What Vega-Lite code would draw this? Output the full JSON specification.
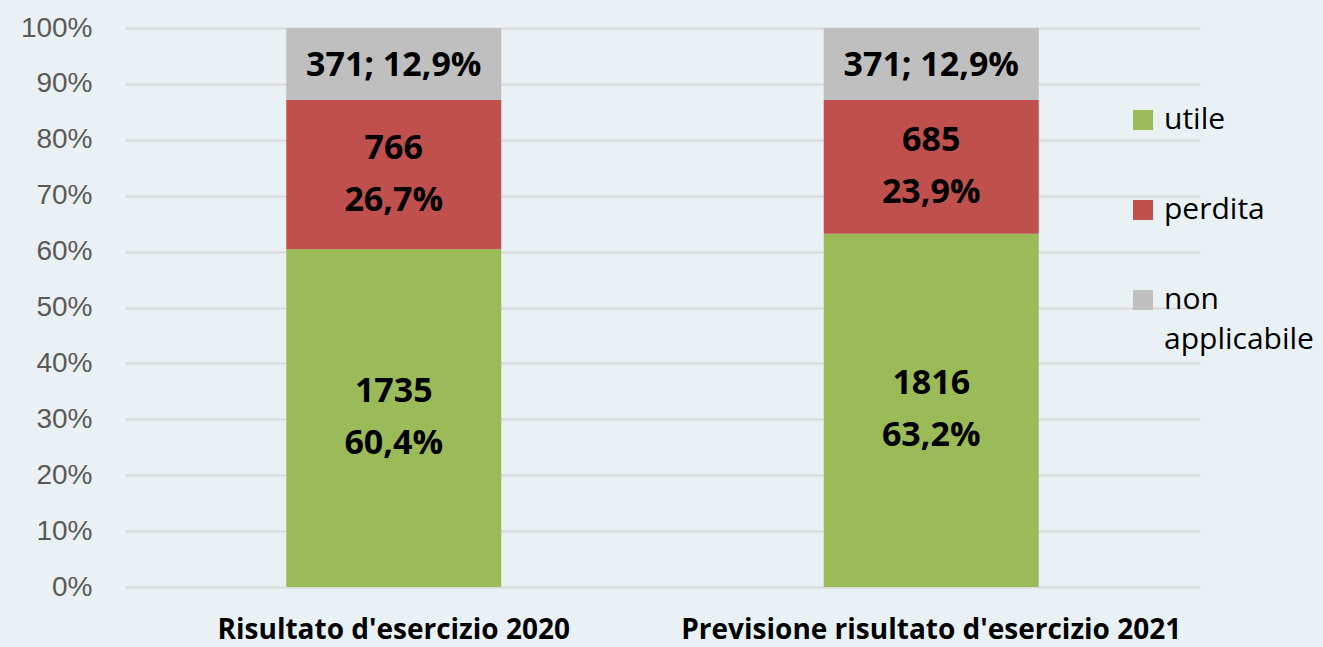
{
  "$schema": "https://vega.github.io/schema/vega-lite/v6.json",
  "autosize": {"type": "none"},
  "width": 1075,
  "height": 559,
  "padding": {"left": 125, "top": 28, "right": 123, "bottom": 60},
  "background": "#eaf1f5",
  "config": {
    "view": {"stroke": null},
    "font": "Open Sans",
    "style": {"guide-label": {"lineHeight": 40}}
  },
  "data": {
    "values": [
      {"cat": "Risultato d'esercizio 2020", "serie": "utile", "order": 1, "pct": 60.4, "label": ["1735", "60,4%"]},
      {"cat": "Risultato d'esercizio 2020", "serie": "perdita", "order": 2, "pct": 26.7, "label": ["766", "26,7%"]},
      {"cat": "Risultato d'esercizio 2020", "serie": "non applicabile", "order": 3, "pct": 12.9, "label": ["371; 12,9%"]},
      {"cat": "Previsione risultato d'esercizio 2021", "serie": "utile", "order": 1, "pct": 63.2, "label": ["1816", "63,2%"]},
      {"cat": "Previsione risultato d'esercizio 2021", "serie": "perdita", "order": 2, "pct": 23.9, "label": ["685", "23,9%"]},
      {"cat": "Previsione risultato d'esercizio 2021", "serie": "non applicabile", "order": 3, "pct": 12.9, "label": ["371; 12,9%"]}
    ]
  },
  "transform": [
    {"stack": "pct", "groupby": ["cat"], "sort": [{"field": "order", "order": "ascending"}], "as": ["y0", "y1"]},
    {"calculate": "(datum.y0 + datum.y1) / 2", "as": "ymid"}
  ],
  "encoding": {
    "x": {
      "field": "cat",
      "type": "nominal",
      "sort": null,
      "title": null,
      "scale": {"paddingInner": 0.6, "paddingOuter": 0.3},
      "axis": {
        "labelAngle": 0,
        "ticks": false,
        "domain": false,
        "labelFont": "Open Sans",
        "labelFontWeight": "bold",
        "labelFontSize": 28,
        "labelColor": "#000000",
        "labelPadding": 29,
        "labelLimit": 700
      }
    }
  },
  "layer": [
    {
      "mark": {"type": "bar"},
      "encoding": {
        "y": {
          "field": "y0",
          "type": "quantitative",
          "title": null,
          "scale": {"domain": [0, 100], "nice": false},
          "axis": {
            "values": [0, 10, 20, 30, 40, 50, 60, 70, 80, 90, 100],
            "labelExpr": "datum.value + '%'",
            "ticks": false,
            "domain": false,
            "grid": true,
            "gridColor": "#d9d9d9",
            "gridWidth": 2,
            "labelFont": "Liberation Sans",
            "labelFontSize": 28,
            "labelColor": "#595959",
            "labelPadding": 33
          }
        },
        "y2": {"field": "y1"},
        "color": {
          "field": "serie",
          "type": "nominal",
          "sort": ["utile", "perdita", "non applicabile"],
          "scale": {"domain": ["utile", "perdita", "non applicabile"], "range": ["#9bbb59", "#c0504d", "#bfbfbf"]},
          "legend": {
            "title": null,
            "orient": "none",
            "legendX": 1003,
            "legendY": 77,
            "symbolType": "square",
            "symbolSize": 400,
            "symbolStrokeWidth": 0,
            "symbolOpacity": 1,
            "labelFont": "Open Sans",
            "labelFontSize": 30,
            "labelColor": "#000000",
            "labelOffset": 6,
            "rowPadding": 60,
            "labelLimit": 300,
            "labelExpr": "datum.label == 'non applicabile' ? ['non', 'applicabile'] : datum.label"
          }
        },
        "order": {"field": "order"}
      }
    },
    {
      "transform": [{"filter": "datum.order < 3"}],
      "mark": {"type": "text", "font": "Open Sans", "fontWeight": "bold", "fontSize": 34, "lineHeight": 52, "dy": -26, "color": "#000000", "baseline": "middle", "align": "center"},
      "encoding": {
        "y": {"field": "ymid", "type": "quantitative"},
        "text": {"field": "label"}
      }
    },
    {
      "transform": [{"filter": "datum.order == 3"}],
      "mark": {"type": "text", "font": "Open Sans", "fontWeight": "bold", "fontSize": 34, "dy": 2, "color": "#000000", "baseline": "middle", "align": "center"},
      "encoding": {
        "y": {"field": "ymid", "type": "quantitative"},
        "text": {"field": "label"}
      }
    }
  ]
}
